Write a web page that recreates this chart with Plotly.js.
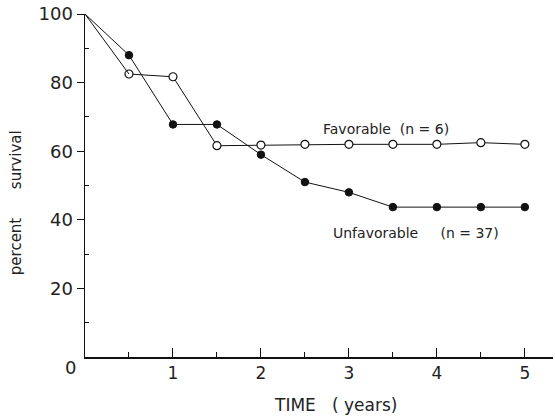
<!DOCTYPE html>
<html><head><meta charset="utf-8">
<script src="https://cdn.plot.ly/plotly-3.0.1.min.js"></script>
<style>html,body{margin:0;padding:0;background:#fff}#c{width:555px;height:420px}</style>
</head><body><div id="c"></div>
<script>
const years = [0, 0.5, 1, 1.5, 2, 2.5, 3, 3.5, 4, 4.5, 5];
const favorable = [100, 82.5, 81.7, 61.6, 61.8, 62.0, 62.0, 62.0, 62.0, 62.5, 62.0];
const unfavorable = [100, 88, 67.8, 67.8, 59, 51, 48, 43.7, 43.7, 43.7, 43.7];
const xTicks = [1, 2, 3, 4, 5];
const yTicks = [20, 40, 60, 80, 100];
const favLabel = "Favorable  (n = 6)";
const unfLabel = "Unfavorable     (n = 37)";
const xTitle = "TIME   ( years)";
const yTitle = "percent      survival";

const font = "DejaVu Sans, sans-serif";
const traces = [
  {x: years.slice(1), y: favorable.slice(1), mode: 'lines+markers', type: 'scatter', cliponaxis: false,
   line: {color: '#111', width: 1},
   marker: {symbol: 'circle', size: 8, color: '#fff', line: {color: '#111', width: 1.2}}},
  {x: years.slice(1), y: unfavorable.slice(1), mode: 'lines+markers', type: 'scatter', cliponaxis: false,
   line: {color: '#111', width: 1},
   marker: {symbol: 'circle', size: 7.5, color: '#111', line: {color: '#111', width: 1}}},
  {x: years.slice(0, 2), y: favorable.slice(0, 2), mode: 'lines', type: 'scatter', cliponaxis: false,
   line: {color: '#111', width: 1}},
  {x: years.slice(0, 2), y: unfavorable.slice(0, 2), mode: 'lines', type: 'scatter', cliponaxis: false,
   line: {color: '#111', width: 1}}
];
const layout = {
  width: 555, height: 420,
  margin: {l: 85, r: 2, t: 14, b: 63},
  paper_bgcolor: '#fff', plot_bgcolor: '#fff',
  showlegend: false,
  font: {family: font, color: '#222'},
  xaxis: {
    range: [0, 5.32], showgrid: false, zeroline: false,
    showline: true, linecolor: '#111', linewidth: 1.5,
    tickmode: 'array', tickvals: xTicks, ticktext: xTicks.map(String),
    ticks: 'inside', ticklen: 9, tickwidth: 1, tickcolor: '#111',
    minor: {tickvals: [0.5, 1.5, 2.5, 3.5, 4.5], ticks: 'inside', ticklen: 5, tickwidth: 1, tickcolor: '#111'},
    tickfont: {size: 17, family: font, color: '#222'}
  },
  yaxis: {
    range: [0, 100], showgrid: false, zeroline: false,
    showline: true, linecolor: '#111', linewidth: 1.5,
    tickmode: 'array', tickvals: yTicks, ticktext: yTicks.map(String),
    ticks: 'outside', ticklen: 7, tickwidth: 1, tickcolor: '#111',
    minor: {tickvals: [10, 30, 50, 70, 90], ticks: 'inside', ticklen: 4, tickwidth: 1, tickcolor: '#111'},
    tickfont: {size: 18, family: font, color: '#222'}
  },
  annotations: [
    {x: 2.68, y: 63.5, xref: 'x', yref: 'y', text: favLabel, showarrow: false, xanchor: 'left', yanchor: 'bottom',
     font: {size: 14, family: font, color: '#222'}},
    {x: 2.8, y: 36.2, xref: 'x', yref: 'y', text: unfLabel, showarrow: false, xanchor: 'left', yanchor: 'middle',
     font: {size: 14, family: font, color: '#222'}},
    {x: -0.032, y: -0.032, xref: 'paper', yref: 'paper', text: '0', showarrow: false, xanchor: 'center', yanchor: 'middle',
     font: {size: 18, family: font, color: '#222'}},
    {x: 0.536, y: -0.14, xref: 'paper', yref: 'paper', text: xTitle, showarrow: false, xanchor: 'center', yanchor: 'middle',
     font: {size: 17, family: font, color: '#222'}},
    {x: -0.147, y: 0.449, xref: 'paper', yref: 'paper', text: yTitle, showarrow: false, textangle: -90,
     xanchor: 'center', yanchor: 'middle', font: {size: 15, family: font, color: '#222'}}
  ]
};
Plotly.newPlot('c', traces, layout, {staticPlot: true, displayModeBar: false});
</script></body></html>
